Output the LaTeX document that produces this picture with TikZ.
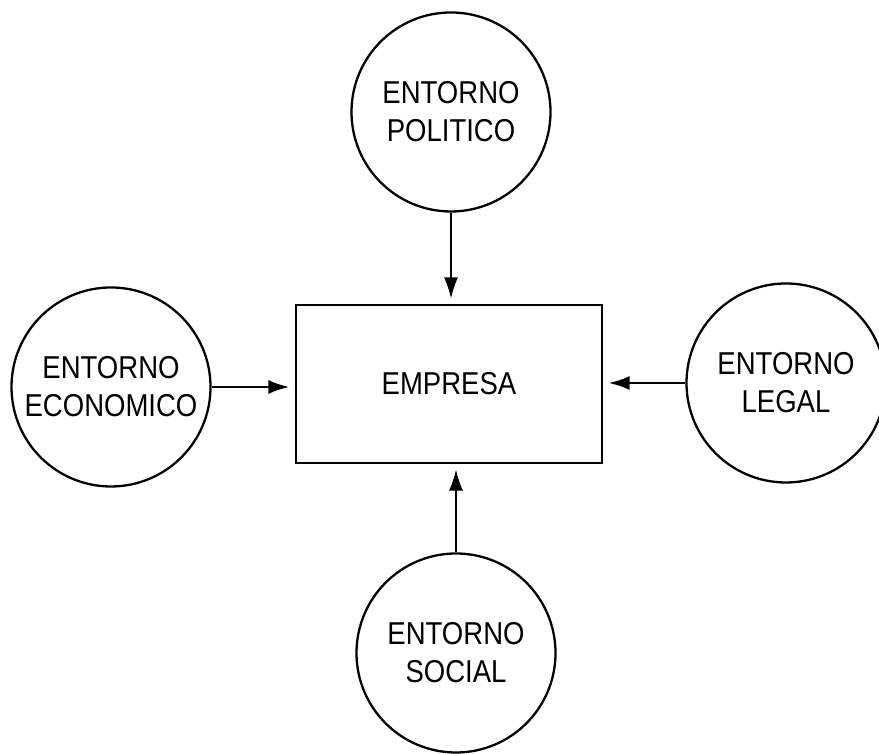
\documentclass[tikz,border=0pt]{standalone}
\usepackage{fontspec}
\setmainfont{Liberation Sans}[FakeStretch=0.87]
\usetikzlibrary{arrows.meta}
\begin{document}
\begin{tikzpicture}[
        entorno/.style={draw, circle, line width=1.3pt, minimum size=3.98cm, inner sep=0pt,
            align=center, font=\fontsize{18}{21.6}\selectfont},
        flecha/.style={line width=0.9pt, -{Latex[length=4.2mm,width=2.8mm]}, shorten >=3pt}
    ]
            \useasboundingbox (0,0) rectangle (17.58,15.08);
            \node[draw, line width=1.5pt, minimum width=6.12cm, minimum height=3.16cm,
                font=\fontsize{18}{21.6}\selectfont] (empresa) at (8.98,7.40) {EMPRESA};

            \node[entorno] (politico) at (9.02,12.84) {ENTORNO\\POLITICO};
            \node[entorno] (economico) at (2.22,7.34) {ENTORNO\\ECONOMICO};
            \node[entorno] (legal) at (15.72,7.42) {ENTORNO\\LEGAL};
            \node[entorno] (social) at (9.12,2.02) {ENTORNO\\SOCIAL};

            \draw[flecha] (politico) -- (politico |- empresa.north);
            \draw[flecha, line width=1.4pt] (economico) -- (economico -| empresa.west);
            \draw[flecha, line width=1.4pt] (legal) -- (legal -| empresa.east);
            \draw[flecha] (social) -- (social |- empresa.south);
        \end{tikzpicture}
\end{document}
